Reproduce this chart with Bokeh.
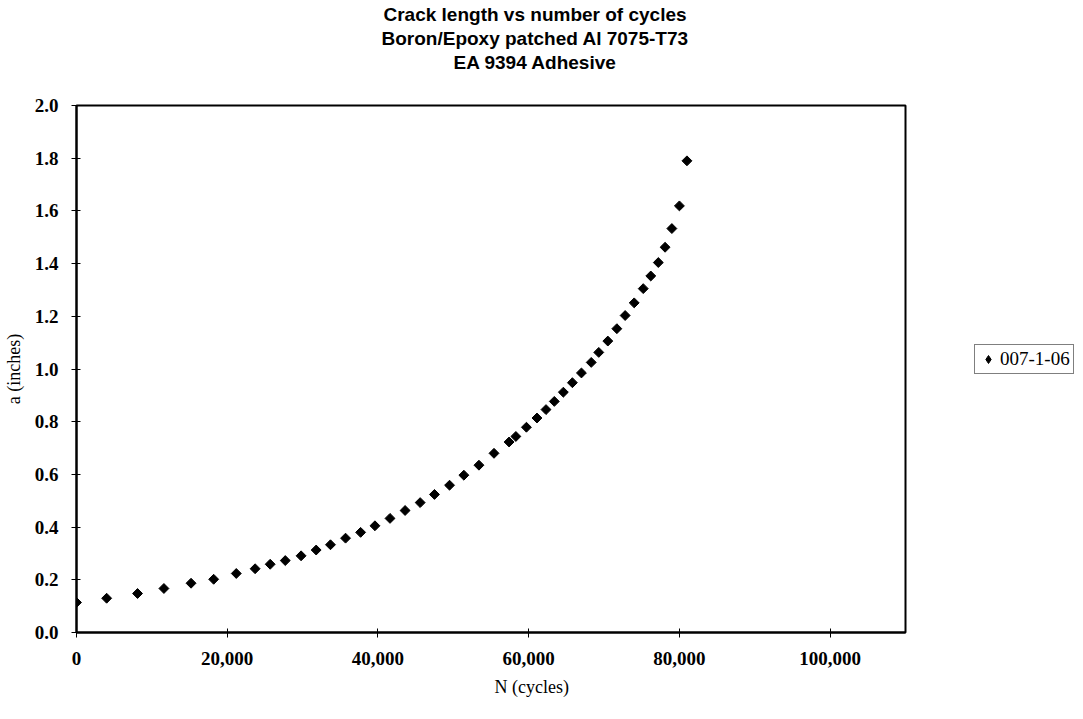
from bokeh.plotting import figure
from bokeh.layouts import row
from bokeh.models import (Range1d, FixedTicker, NumeralTickFormatter, Title,
                          Legend, LegendItem)
from bokeh.embed import file_html
from bokeh.resources import INLINE
import math

# crack length a (inches) against number of cycles N
cycles = [0, 4000, 8100, 11600, 15200, 18200, 21200, 23700, 25700, 27700,
          29800, 31800, 33700, 35700, 37700, 39600, 41600, 43600, 45600, 47500,
          49500, 51400, 53400, 55400, 57400, 58300, 59700, 61100, 62300, 63400,
          64600, 65800, 67000, 68300, 69300, 70500, 71700, 72800, 74000, 75200,
          76200, 77200, 78100, 79000, 80000, 81000]
crack = [0.114, 0.130, 0.148, 0.167, 0.187, 0.202, 0.224, 0.242, 0.259, 0.273,
         0.291, 0.313, 0.333, 0.358, 0.380, 0.405, 0.433, 0.463, 0.493, 0.524,
         0.559, 0.597, 0.635, 0.680, 0.723, 0.744, 0.779, 0.814, 0.846, 0.877,
         0.912, 0.948, 0.985, 1.025, 1.063, 1.106, 1.153, 1.203, 1.251, 1.305,
         1.353, 1.404, 1.462, 1.533, 1.619, 1.790]

series_name = "007-1-06"
title_lines = ["Crack length vs number of cycles",
               "Boron/Epoxy patched Al 7075-T73",
               "EA 9394 Adhesive"]
x_ticks = [0, 20000, 40000, 60000, 80000, 100000]
y_ticks = [0.0, 0.2, 0.4, 0.6, 0.8, 1.0, 1.2, 1.4, 1.6, 1.8, 2.0]

serif = "Liberation Serif"
sans = "Liberation Sans"

p = figure(width=907, height=711, x_range=Range1d(0, 110000), y_range=Range1d(0, 2.0),
           output_backend="svg", toolbar_location=None, title_location=None,
           min_border_left=72, min_border_right=2, min_border_top=105, min_border_bottom=79)
p.background_fill_color = "white"
p.border_fill_color = "white"
p.outline_line_color = "black"
p.outline_line_width = 2
p.grid.grid_line_color = None

#points: rotated squares, like the spreadsheet diamonds
r = p.scatter(cycles, crack, marker="square", size=7, angle=math.pi / 4,
              fill_color="black", line_color="black")

#axes
p.xaxis.ticker = FixedTicker(ticks=x_ticks)
p.yaxis.ticker = FixedTicker(ticks=y_ticks)
p.xaxis.formatter = NumeralTickFormatter(format="0,0")
p.yaxis.formatter = NumeralTickFormatter(format="0.0")
p.axis.minor_tick_line_color = None
p.axis.major_tick_in = 4
p.axis.major_tick_out = 5
p.axis.major_tick_line_color = "black"
p.axis.axis_line_width = 2
p.axis.axis_line_color = "black"
p.axis.major_label_text_font = serif
p.axis.major_label_text_font_size = "19px"
p.axis.major_label_text_font_style = "bold"
p.axis.major_label_text_color = "black"
p.xaxis.major_label_standoff = 14
p.yaxis.major_label_standoff = 13

p.yaxis.axis_label = "a (inches)"
p.yaxis.axis_label_text_font = serif
p.yaxis.axis_label_text_font_size = "18px"
p.yaxis.axis_label_text_font_style = "normal"
p.yaxis.axis_label_text_color = "black"
p.yaxis.axis_label_standoff = 8

#x label sits right of the frame centre in the original
p.add_layout(Title(text="N (cycles)", align="left", offset=418, standoff=14,
                   text_font=serif, text_font_size="18px", text_font_style="normal",
                   text_color="black"), "below")

#gap between the title block and the frame, then the three title lines
p.add_layout(Title(text=" ", standoff=19, text_font_size="10px"), "above")
offsets = [377, 305, 307]
for line, off in zip(reversed(title_lines), offsets):
    p.add_layout(Title(text=line, align="left", offset=off, standoff=1,
                       text_font=sans, text_font_size="19px", text_font_style="bold",
                       text_color="black"), "above")

#legend lives in a narrow side figure so it is not clipped by the main frame;
#its key renderer uses the same data but the range keeps the points out of view
lf = figure(width=168, height=711, x_range=Range1d(-2, -1), y_range=Range1d(-2, -1),
            x_axis_type=None, y_axis_type=None, output_backend="svg",
            toolbar_location=None, title_location=None, min_border=0)
lf.outline_line_color = None
lf.grid.grid_line_color = None
key = lf.scatter(cycles, crack, marker="diamond", fill_color="black", line_color="black")
legend = Legend(items=[LegendItem(label=series_name, renderers=[key])],
                location=(67, 258), border_line_color="black", border_line_width=1,
                background_fill_color="white", padding=3, margin=0, spacing=0,
                glyph_width=20, glyph_height=22, label_standoff=2,
                label_text_font=serif, label_text_font_size="19px",
                label_text_color="black")
lf.add_layout(legend)

open("out.html", "w").write(file_html(row(p, lf), INLINE))
